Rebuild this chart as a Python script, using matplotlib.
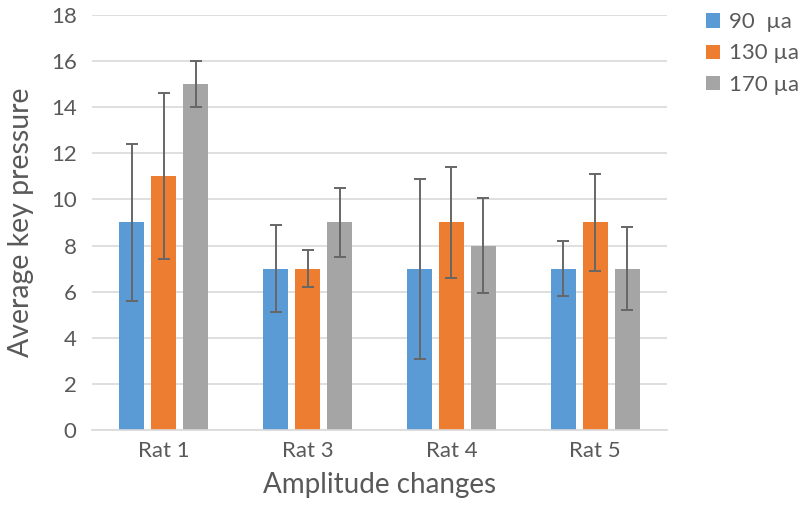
import matplotlib
matplotlib.use("Agg")
import matplotlib.pyplot as plt
import numpy as np
from matplotlib.patches import Patch

plt.rcParams['font.family'] = ['Lato', 'DejaVu Sans']

categories = ["Rat 1", "Rat 3", "Rat 4", "Rat 5"]
series_names = ["90  µa", "130 µa", "170 µa"]
means = [
    [9, 7, 7, 7],
    [11, 7, 9, 9],
    [15, 9, 8, 7],
]
errors = [
    [3.4, 1.9, 3.9, 1.2],
    [3.6, 0.8, 2.4, 2.1],
    [1.0, 1.5, 2.05, 1.8],
]
colors = ["#5b9bd5", "#ed7d31", "#a5a5a5"]
text_color = "#595959"

fig = plt.figure(figsize=(8, 5.12), dpi=100)
ax = fig.add_axes([0.115, 0.160, 0.719, 0.811])

x = np.arange(len(categories))
width = 0.174
pitch = 0.222
for i, (m, e, c) in enumerate(zip(means, errors, colors)):
    pos = x + (i - 1) * pitch
    ax.bar(pos, m, width=width, color=c, zorder=2)
    ax.errorbar(pos, m, yerr=e, fmt='none', ecolor="#666666", elinewidth=1.4,
                capsize=4.5, capthick=1.4, zorder=3)

ax.set_xlim(-0.5, len(categories) - 0.5)
ax.set_ylim(0, 18)
ax.set_yticks(np.arange(0, 19, 2))
ax.yaxis.grid(True, color="#d9d9d9", linewidth=1.2, zorder=0)
ax.set_axisbelow(True)
for s in ["top", "right", "left"]:
    ax.spines[s].set_visible(False)
ax.spines["bottom"].set_color("#d9d9d9")
ax.spines["bottom"].set_linewidth(1.2)
ax.set_xticks(x)
ax.set_xticklabels(categories)
ax.tick_params(axis='both', length=0, labelsize=16, colors=text_color)
ax.tick_params(axis='y', pad=11)
ax.tick_params(axis='x', pad=8)

ax.set_ylabel("Average key pressure", fontsize=20.5, color=text_color, labelpad=12)
ax.set_xlabel("Amplitude changes", fontsize=20, color=text_color, labelpad=8)

handles = [Patch(facecolor=c, edgecolor='none') for c in colors]
fig.legend(handles, series_names, loc='upper left', bbox_to_anchor=(0.858, 1.015),
           frameon=False, fontsize=16, labelcolor=text_color,
           handlelength=0.6, handleheight=0.6, handletextpad=0.4, labelspacing=0.5)

fig.savefig("out.png", dpi=100)
